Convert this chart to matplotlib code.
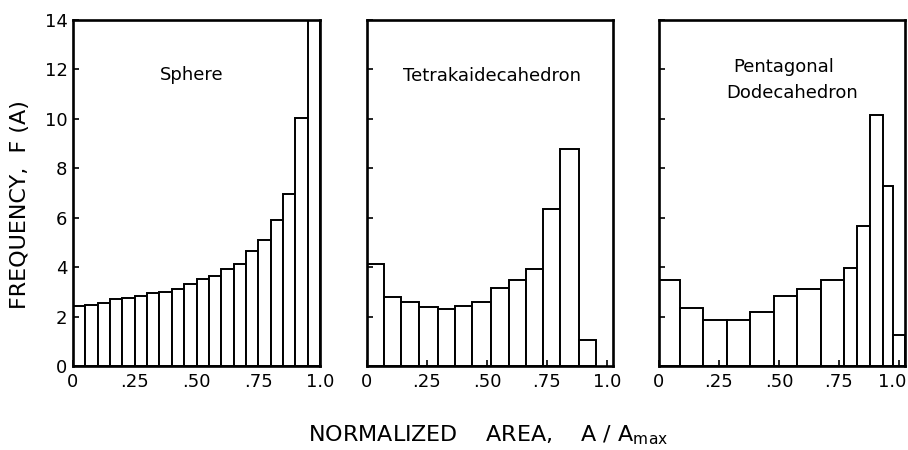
import matplotlib
matplotlib.use("Agg")
import matplotlib.pyplot as plt
import matplotlib.transforms as mtransforms
import numpy as np

plt.rcParams['font.family'] = ['DejaVu Sans']

# ---- data ----
sphere_edges = [0.00, 0.05, 0.10, 0.15, 0.20, 0.25, 0.30, 0.35, 0.40, 0.45, 0.50,
                0.55, 0.60, 0.65, 0.70, 0.75, 0.80, 0.85, 0.90, 0.95, 1.00]
sphere_freq = [2.42, 2.48, 2.56, 2.72, 2.77, 2.84, 2.94, 2.98, 3.10, 3.30, 3.52,
               3.66, 3.93, 4.13, 4.67, 5.10, 5.90, 6.96, 10.05, 14.0]

tetra_edges = [0.000, 0.072, 0.143, 0.215, 0.294, 0.368, 0.438, 0.518, 0.590,
               0.664, 0.732, 0.806, 0.882, 0.954]
tetra_freq = [4.12, 2.80, 2.60, 2.40, 2.30, 2.42, 2.60, 3.15, 3.46, 3.93, 6.35, 8.80, 1.05]

penta_edges = [0.000, 0.089, 0.183, 0.283, 0.381, 0.478, 0.575, 0.674, 0.770,
               0.825, 0.881, 0.933, 0.975, 1.025]
penta_freq = [3.50, 2.35, 1.87, 1.87, 2.17, 2.83, 3.12, 3.46, 3.95, 5.67, 10.15, 7.27, 1.27]

panel_titles = [["Sphere"], ["Tetrakaidecahedron"], ["Pentagonal", "Dodecahedron"]]
xtick_vals = [0, 0.25, 0.50, 0.75, 1.0]
xtick_labels = ["0", ".25", ".50", ".75", "1.0"]
ytick_vals = [0, 2, 4, 6, 8, 10, 12, 14]

panels = [(sphere_edges, sphere_freq), (tetra_edges, tetra_freq), (penta_edges, penta_freq)]
xmaxes = [1.0, 1.025, 1.025]

fig = plt.figure(figsize=(9.08, 4.5), dpi=100)
W, H = 908.0, 450.0
rects = [(73, 247), (367, 246), (659, 246)]
top_px, bot_px = 20, 366
# (x_center, baseline) in axes fraction, per title line
title_pos = [[(0.48, 0.827)], [(0.51, 0.824)], [(0.508, 0.850), (0.54, 0.775)]]

for i, ((edges, freq), (lx, wx)) in enumerate(zip(panels, rects)):
    ax = fig.add_axes([lx / W, 1 - bot_px / H, wx / W, (bot_px - top_px) / H])
    e = np.array(edges)
    ax.bar(e[:-1], freq, width=np.diff(e), align='edge', facecolor='white',
           edgecolor='black', linewidth=1.4)
    ax.set_xlim(0, xmaxes[i])
    ax.set_ylim(0, 14)
    for s in ax.spines.values():
        s.set_linewidth(1.9)
    ax.set_xticks(xtick_vals)
    ax.set_xticklabels(xtick_labels)
    ax.set_yticks(ytick_vals)
    ax.tick_params(direction='in', length=4, width=1.2, labelsize=13)
    ax.tick_params(axis='x', pad=5)
    ax.tick_params(axis='y', pad=4)
    if i > 0:
        ax.set_yticklabels([])
    if i == 2:
        lab = ax.get_xticklabels()[-1]
        lab.set_transform(lab.get_transform() +
                          mtransforms.ScaledTranslation(-7 / 100, 0, fig.dpi_scale_trans))
    for txt, (tx, ty) in zip(panel_titles[i], title_pos[i]):
        ax.text(tx, ty, txt, transform=ax.transAxes, ha='center', va='baseline',
                fontsize=13)

fig.text(0.022, 1 - 205 / H, "FREQUENCY,  F (A)", rotation=90, ha='center', va='center',
         fontsize=16)
fig.text(308 / W, 1 - 441 / H, r"NORMALIZED    AREA,    A / A$_{\mathregular{max}}$",
         ha='left', va='baseline', fontsize=16)

fig.savefig("out.png", dpi=100)
